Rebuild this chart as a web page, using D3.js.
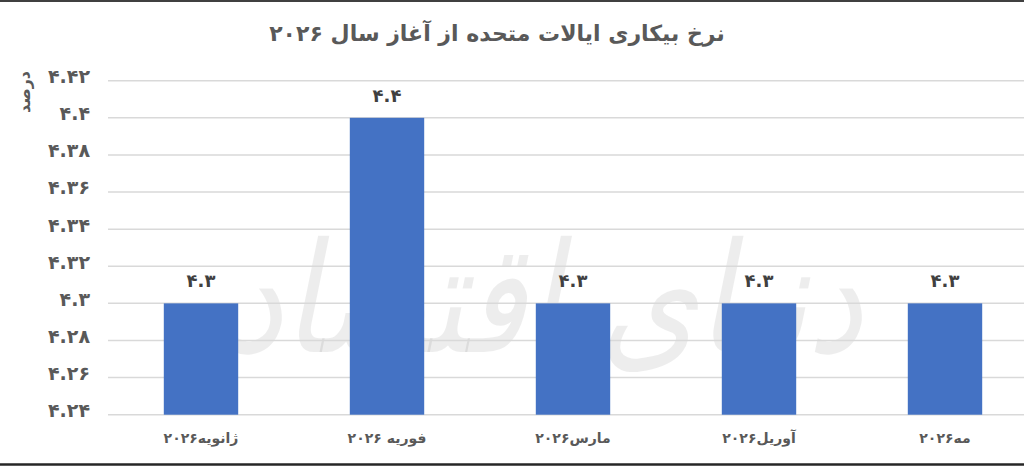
<!DOCTYPE html>
<html>
<head>
<meta charset="utf-8">
<script src="https://cdn.jsdelivr.net/npm/d3@7"></script>
<style>
  html, body { margin: 0; padding: 0; background: #ffffff; }
  svg { display: block; }
  text { font-family: "DejaVu Sans", "Noto Sans", sans-serif; }
</style>
</head>
<body>
<svg id="chart" width="1024" height="466"></svg>
<script>
const title = "نرخ بیکاری ایالات متحده از آغاز سال ۲۰۲۶";
const yAxisTitle = "درصد";
const watermark = "دنیای اقتصاد";
const categories = ["ژانویه۲۰۲۶", "فوریه ۲۰۲۶", "مارس۲۰۲۶", "آوریل۲۰۲۶", "مه۲۰۲۶"];
const values = [4.3, 4.4, 4.3, 4.3, 4.3];
const yTicks = [4.24, 4.26, 4.28, 4.30, 4.32, 4.34, 4.36, 4.38, 4.40, 4.42];

const W = 1024, H = 466;
const svg = d3.select("#chart");

const faDigits = "۰۱۲۳۴۵۶۷۸۹";
const toFa = s => String(s).replace(/[0-9]/g, d => faDigits[+d]);
const fmt = v => toFa(d3.format("~g")(+v.toFixed(2)));

const x = d3.scaleBand().domain(categories).range([108, 1038]).paddingInner(0.6).paddingOuter(0.3);
const y = d3.scaleLinear().domain([4.24, 4.42]).range([414.7, 80.7]);

// watermark (faint logo text behind the plot)
svg.append("text")
  .attr("transform", "translate(545,352) scale(1.22,1.5)")
  .attr("text-anchor", "middle")
  .attr("font-size", 102)
  .attr("font-style", "italic")
  .attr("fill", "#000").attr("fill-opacity", 0.07)
  .text(watermark);

// gridlines
svg.append("g").selectAll("line.grid").data(yTicks).join("line")
  .attr("class", "grid")
  .attr("x1", 108).attr("x2", W)
  .attr("y1", d => y(d)).attr("y2", d => y(d))
  .attr("stroke", "#d9d9d9").attr("stroke-width", 1.5);

// y axis labels
const yAxis = d3.axisLeft(y).tickValues(yTicks).tickSize(0).tickFormat(fmt);
const ga = svg.append("g").attr("transform", "translate(90,0)").call(yAxis);
ga.select(".domain").remove();
ga.selectAll("text")
  .attr("x", 0).attr("dy", "0.1em")
  .attr("font-size", 19).attr("font-weight", "bold")
  .attr("letter-spacing", 1)
  .attr("fill", "#595959")
  .attr("font-family", "DejaVu Sans");

// bars
svg.append("g").selectAll("rect").data(values).join("rect")
  .attr("x", (d, i) => x(categories[i]))
  .attr("width", x.bandwidth())
  .attr("y", d => y(d))
  .attr("height", d => y(4.24) - y(d))
  .attr("fill", "#4472c4");

// value labels
svg.append("g").selectAll("text").data(values).join("text")
  .attr("x", (d, i) => x(categories[i]) + x.bandwidth() / 2)
  .attr("y", d => y(d) - 16)
  .attr("text-anchor", "middle")
  .attr("font-size", 18).attr("font-weight", "bold")
  .attr("letter-spacing", 1.5)
  .attr("fill", "#404040")
  .text(d => fmt(d));

// x axis
const xAxis = d3.axisBottom(x).tickSize(0).tickPadding(18);
const gx = svg.append("g").attr("transform", `translate(0,${y(4.24)})`).call(xAxis);
gx.select(".domain").remove();
gx.selectAll("text")
  .attr("font-size", 14).attr("font-weight", "bold")
  .attr("fill", "#595959")
  .attr("font-family", "DejaVu Sans");

// title
svg.append("text")
  .attr("x", 497).attr("y", 41)
  .attr("text-anchor", "middle")
  .attr("font-size", 22).attr("font-weight", "bold")
  .attr("fill", "#595959")
  .text(title);

// y axis title
svg.append("text")
  .attr("transform", "translate(30,92) rotate(-90)")
  .attr("text-anchor", "middle")
  .attr("font-size", 16).attr("font-weight", "bold")
  .attr("fill", "#595959")
  .text(yAxisTitle);

// frame lines top & bottom
svg.append("line").attr("x1", 0).attr("x2", W).attr("y1", 1).attr("y2", 1)
  .attr("stroke", "#404040").attr("stroke-width", 2);
svg.append("line").attr("x1", 0).attr("x2", W).attr("y1", 464.5).attr("y2", 464.5)
  .attr("stroke", "#262626").attr("stroke-width", 2.5);
</script>
</body>
</html>
